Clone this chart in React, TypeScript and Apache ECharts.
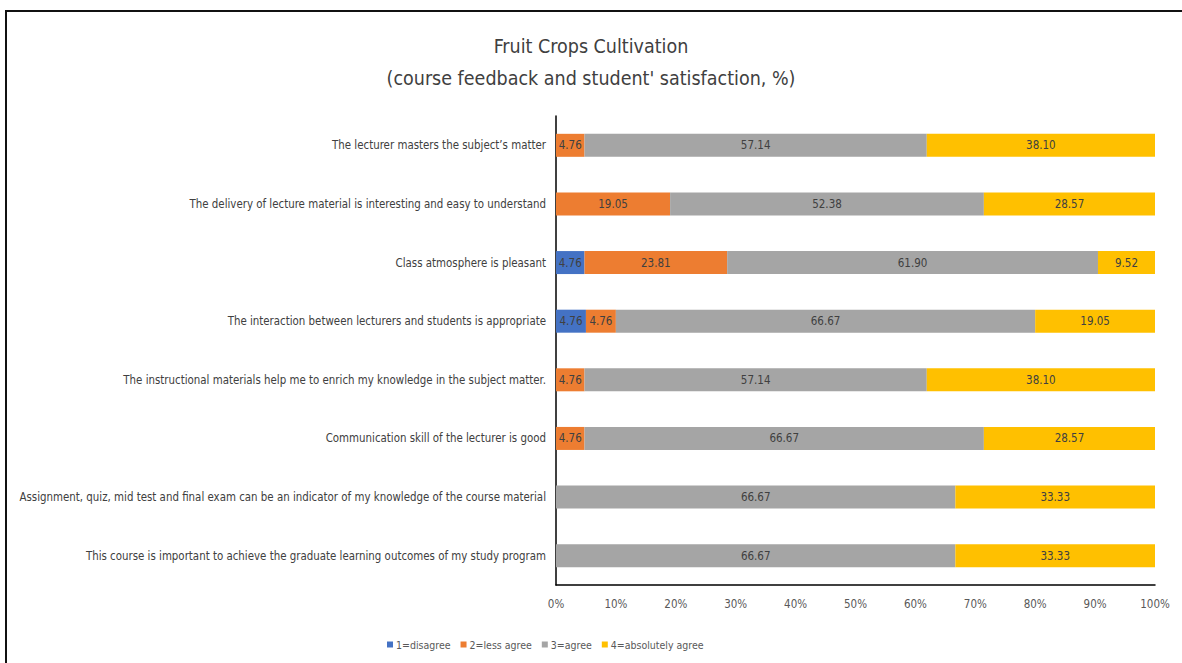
import React, { useEffect, useRef } from "react";
import * as echarts from "echarts";

// Survey statements, top to bottom
const statements = [
  "The lecturer masters the subject\u2019s matter",
  "The delivery of lecture material is interesting and easy to understand",
  "Class atmosphere is pleasant",
  "The interaction between lecturers and students is appropriate",
  "The instructional materials help me to enrich my knowledge in the subject matter.",
  "Communication skill of the lecturer is good",
  "Assignment, quiz, mid test and final exam can be an indicator of my knowledge of the course material",
  "This course is important to achieve the graduate learning outcomes of my study program",
];

// Responses per statement (%)
const disagree = [0, 0, 4.76, 4.76, 0, 0, 0, 0];
const lessAgree = [4.76, 19.05, 23.81, 4.76, 4.76, 4.76, 0, 0];
const agree = [57.14, 52.38, 61.9, 66.67, 57.14, 66.67, 66.67, 66.67];
const absolutelyAgree = [38.1, 28.57, 9.52, 19.05, 38.1, 28.57, 33.33, 33.33];

const seriesNames = ["1=disagree", "2=less agree", "3=agree", "4=absolutely agree"];
const seriesColors = ["#4472C4", "#ED7D31", "#A5A5A5", "#FFC000"];
const xTicks = [0, 10, 20, 30, 40, 50, 60, 70, 80, 90, 100];

const FONT = "'DejaVu Sans Condensed', 'Liberation Sans Narrow', sans-serif";

export default function App() {
  const ref = useRef<HTMLDivElement>(null);

  useEffect(() => {
    if (!ref.current) return;
    const chart = echarts.init(ref.current, undefined, { renderer: "svg" });

    const groups = [disagree, lessAgree, agree, absolutelyAgree];
    const totals = statements.map((_, i) => groups.reduce((s, g) => s + g[i], 0));

    // 100% stacked: each segment is its share of the row total, labelled with the raw value
    const series = groups.map((vals, k) => ({
      name: seriesNames[k],
      type: "bar",
      stack: "total",
      barWidth: 23,
      itemStyle: { color: seriesColors[k] },
      label: {
        show: true,
        position: "inside",
        color: "#404040",
        fontFamily: FONT,
        fontSize: 11.5,
        formatter: (p: any) => (vals[p.dataIndex] > 0 ? vals[p.dataIndex].toFixed(2) : ""),
      },
      data: vals.map((v, i) => (v > 0 ? (v / totals[i]) * 100 : null)),
    }));

    chart.setOption({
      animation: false,
      backgroundColor: "#ffffff",
      textStyle: { fontFamily: FONT },
      title: {
        text: "Fruit Crops Cultivation\n(course feedback and student' satisfaction, %)",
        left: "center",
        top: 25,
        textStyle: {
          fontFamily: FONT,
          fontSize: 19.5,
          fontWeight: "normal",
          color: "#404040",
          lineHeight: 32,
        },
      },
      graphic: [
        {
          type: "rect",
          shape: { x: 6, y: 11, width: 1200, height: 700 },
          style: { fill: "none", stroke: "#111111", lineWidth: 2 },
          silent: true,
        },
      ],
      legend: {
        left: 382,
        top: 634,
        itemWidth: 6,
        itemHeight: 6,
        itemGap: 10,
        icon: "rect",
        textStyle: { fontFamily: FONT, fontSize: 10.5, color: "#595959", padding: [0, 0, 0, -2] },
        data: seriesNames,
      },
      grid: { left: 556, right: 27, top: 116, bottom: 78, containLabel: false, outerBoundsMode: "none" },
      xAxis: {
        type: "value",
        min: 0,
        max: 100,
        interval: 10,
        axisLine: { show: true, lineStyle: { color: "#000000", width: 1.5 } },
        axisTick: { show: false },
        splitLine: { show: false },
        axisLabel: {
          color: "#595959",
          fontFamily: FONT,
          fontSize: 11.5,
          margin: 13,
          formatter: (v: number) => (xTicks.includes(v) ? v + "%" : ""),
        },
      },
      yAxis: {
        type: "category",
        inverse: true,
        data: statements,
        axisLine: { show: true, lineStyle: { color: "#000000", width: 1.5 } },
        axisTick: { show: false },
        axisLabel: {
          color: "#404040",
          fontFamily: FONT,
          fontSize: 11.4,
          margin: 10,
        },
      },
      series,
    });

    return () => chart.dispose();
  }, []);

  return (
    <div
      ref={ref}
      style={{ position: "absolute", left: 0, top: 0, width: 1182, height: 663, background: "#fff" }}
    />
  );
}
